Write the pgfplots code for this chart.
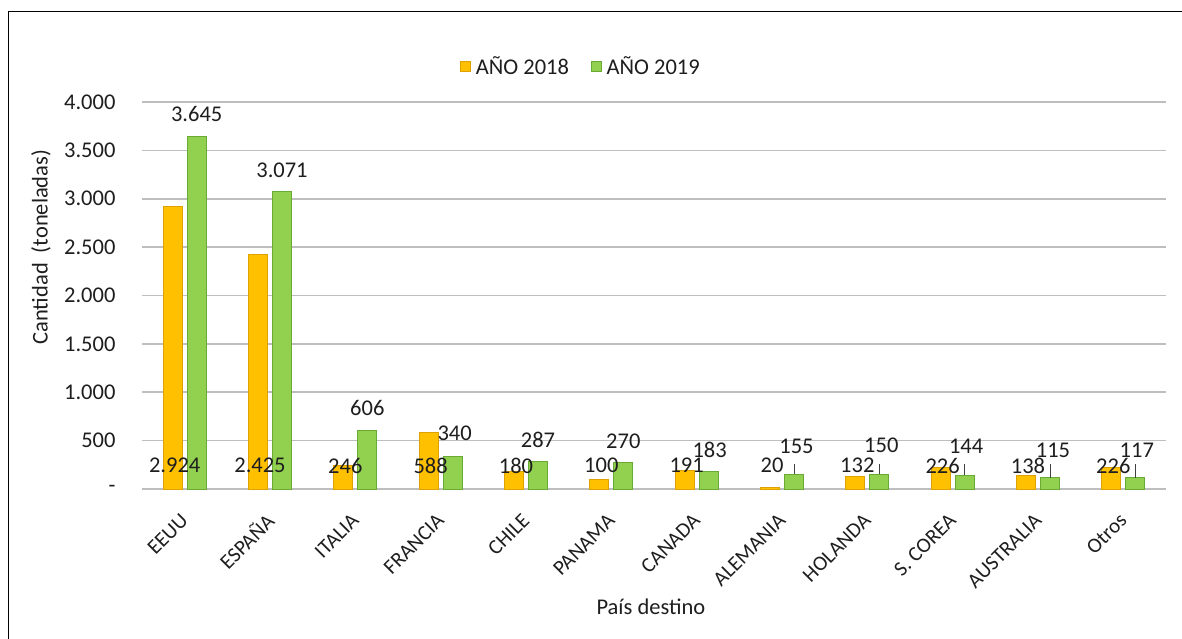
\documentclass[border=0pt]{standalone}
\usepackage{fontspec}
\setmainfont{Carlito}
\usepackage{pgfplots}
\pgfplotsset{compat=1.18}
\usepackage{pgfplotstable}

\definecolor{bar18}{RGB}{255,192,0}
\definecolor{edge18}{RGB}{222,162,0}
\definecolor{bar19}{RGB}{146,208,80}
\definecolor{edge19}{RGB}{104,170,52}
\definecolor{gridgray}{RGB}{190,190,190}
\definecolor{txt}{RGB}{30,30,30}

\newcommand{\chartfont}{\fontsize{22.5}{26}\selectfont}
\newcommand{\catfont}{\fontsize{21}{25}\selectfont}

% export volume by destination (tonnes); dy/dx = label offsets in pt, lead = leader line length
\pgfplotstableread{
x  v18  v19  lab18  lab19  dy18    dy19  dx19  lead
0  2924 3645 2.924  3.645  -259.4  22    0     0
1  2425 3071 2.425  3.071  -211.1  22    0     0
2  246  606  246    606    -0.3    22    0     0
3  588  340  588    340    -33.4   22.5  2     0
4  180  287  180    287    6.1     21.5  0     0
5  100  270  100    270    13.8    22    0     0
6  191  183  191    183    5.0     21.5  1     0
7  20   155  20     155    21.6    27.3  2.5   103
8  132  150  132    150    10.7    29.5  2     108
9  226  144  226    144    1.6     29    1.5   114
10 138  115  138    115    10.1    28    3     143
11 226  117  226    117    1.6     27.7  1.5   141
}\exports

\begin{document}
\begin{tikzpicture}[x=1pt,y=1pt]
\useasboundingbox (0,0) rectangle (1182,639);
\draw[line width=1.4pt, black] (8.3,0) -- (8.3,627.3) -- (1182,627.3);
\begin{axis}[
  at={(142pt,150pt)}, anchor=south west,
  scale only axis, width=1024pt, height=387pt,
  xmin=-0.5, xmax=11.5, ymin=0, ymax=4000,
  ybar, bar width=19pt,
  clip=false,
  axis line style={draw=none},
  tick style={draw=none},
  ytick={0,500,...,4000},
  yticklabels={-,500,1.000,1.500,2.000,2.500,3.000,3.500,4.000},
  ymajorgrids, grid style={gridgray, line width=1.6pt},
  xtick={0,...,11},
  xticklabels={EEUU,ESPAÑA,ITALIA,FRANCIA,CHILE,PANAMA,CANADA,ALEMANIA,HOLANDA,S. COREA,AUSTRALIA,Otros},
  tick label style={font=\chartfont, text=txt},
  yticklabel style={xshift=-23pt},
  xticklabel style={xshift=0pt, yshift=-24pt, rotate=45, anchor=east, inner sep=0pt, font=\catfont},
  xlabel={País destino},
  xlabel style={at={(axis description cs:0.497,-0.305)}, anchor=center, font=\chartfont, text=txt},
  ylabel={Cantidad\ \ (toneladas)},
  ylabel style={at={(axis description cs:-0.0986,0.625)}, anchor=center, font=\chartfont, text=txt},
  legend style={at={(axis description cs:0.4287,1.093)}, anchor=center, draw=none, fill=none,
    legend columns=2, font=\chartfont, text=txt,
    /tikz/every odd column/.append style={column sep=3pt},
    /tikz/every even column/.append style={column sep=20pt}},
  legend image code/.code={\draw[#1, line width=0.6pt] (0pt,-5pt) rectangle (10pt,5pt);},
]
% bars
\addplot[bar shift=-12pt, fill=bar18, draw=edge18, line width=0.8pt]
  table[x=x, y=v18]{\exports};
\addlegendentry{AÑO 2018}
\addplot[bar shift=12pt, fill=bar19, draw=edge19, line width=0.8pt]
  table[x=x, y=v19]{\exports};
\addlegendentry{AÑO 2019}

% value labels, drawn above both bar series
\addplot[forget plot, bar shift=-12pt, draw=none, fill=none,
  nodes near coords, point meta=explicit symbolic,
  visualization depends on={\thisrow{dy18} \as \dyA},
  every node near coord/.append style={anchor=center, yshift=\dyA, xshift=2pt,
    font=\chartfont, text=txt, inner sep=0pt}]
  table[x=x, y=v18, meta=lab18]{\exports};
\addplot[forget plot, bar shift=12pt, draw=none, fill=none,
  nodes near coords, point meta=explicit symbolic,
  visualization depends on={\thisrow{dy19} \as \dyB},
  visualization depends on={\thisrow{dx19} \as \dxB},
  every node near coord/.append style={anchor=center, yshift=\dyB, xshift=\dxB,
    font=\chartfont, text=txt, inner sep=0pt},
  error bars/.cd, y dir=plus, y explicit, error mark=none,
  error bar style={black!75, line width=0.9pt}]
  table[x=x, y=v19, meta=lab19, y error=lead]{\exports};
\end{axis}
\end{tikzpicture}
\end{document}
